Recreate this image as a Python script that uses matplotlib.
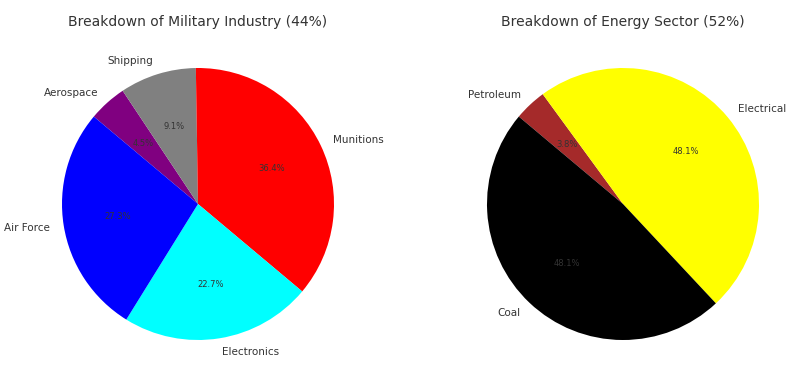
import matplotlib.pyplot as plt

# left pie: military industry
mil_labels = ['Aerospace', 'Shipping', 'Munitions', 'Electronics', 'Air Force']
mil_values = [1, 2, 8, 5, 6]
mil_colors = ['purple', 'gray', 'red', 'cyan', 'blue']

# right pie: energy sector
eng_labels = ['Petroleum', 'Electrical', 'Coal']
eng_values = [2, 25, 25]
eng_colors = ['brown', 'yellow', 'black']

txt_color = '#333333'

fig = plt.figure(figsize=(7.95, 3.75), dpi=100)
ax1 = fig.add_axes([62 / 795, 35 / 375, 272 / 795, 272 / 375])
ax2 = fig.add_axes([487 / 795, 35 / 375, 272 / 795, 272 / 375])


def draw_pie(ax, vals, labels, colors, title):
    wedges, texts, autotexts = ax.pie(vals, labels=labels, colors=colors,
                                      autopct='%1.1f%%', startangle=140,
                                      counterclock=False,
                                      textprops={'color': txt_color, 'fontsize': 7.5})
    for t in autotexts:
        t.set_fontsize(6)
    ax.set_xlim(-1, 1)
    ax.set_ylim(-1, 1)
    ax.set_aspect('equal')
    ax.set_title(title, fontsize=10, color=txt_color, pad=30)


draw_pie(ax1, mil_values, mil_labels, mil_colors, 'Breakdown of Military Industry (44%)')
draw_pie(ax2, eng_values, eng_labels, eng_colors, 'Breakdown of Energy Sector (52%)')

fig.savefig('out.png', dpi=100)
